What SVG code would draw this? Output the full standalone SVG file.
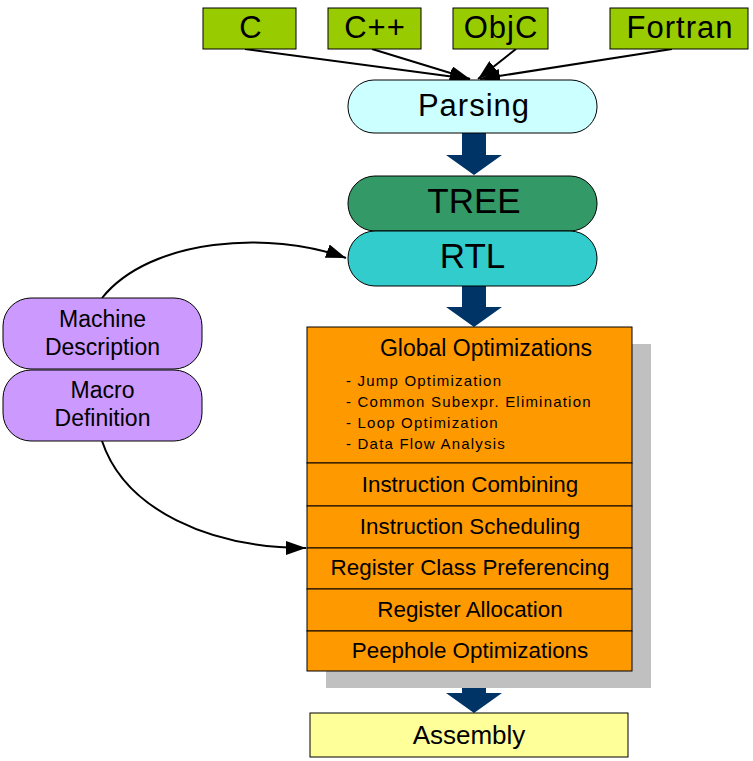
<svg xmlns="http://www.w3.org/2000/svg" width="753" height="761" viewBox="0 0 753 761">
<defs>
<style>
text{font-family:"Liberation Sans",Arial,sans-serif;fill:#000;text-anchor:middle}
.lang{fill:#99cc00;stroke:#000;stroke-width:1}
.pill{stroke:#000;stroke-width:1}
.sec{fill:#ff9900;stroke:#000;stroke-width:1}
.big{font-size:31px;letter-spacing:1px}
.huge{font-size:35px}
.mid{font-size:23px}
.lbl{font-size:22.4px}
.small{font-size:15px;letter-spacing:1.2px;text-anchor:start}
.conn{fill:none;stroke:#000;stroke-width:2}
.flow{fill:#003366}
</style>
<marker id="ah" viewBox="0 0 20 14" refX="20" refY="7" markerWidth="20" markerHeight="14" markerUnits="userSpaceOnUse" orient="auto">
<path d="M0,0 L20,7 L0,14 Z" fill="#000"/>
</marker>
</defs>
<rect width="753" height="761" fill="#fff"/>

<g id="connectors">
<line class="conn" x1="245" y1="49" x2="470" y2="79" marker-end="url(#ah)"/>
<line class="conn" x1="372" y1="49" x2="470" y2="79" marker-end="url(#ah)"/>
<line class="conn" x1="516" y1="49" x2="478" y2="79" marker-end="url(#ah)"/>
<line class="conn" x1="672" y1="49" x2="480" y2="79" marker-end="url(#ah)"/>
<path class="conn" d="M102 298 C150 238 270 230 346 258" marker-end="url(#ah)"/>
<path class="conn" d="M102 441 C125 510 210 548 306 548" marker-end="url(#ah)"/>
<path class="flow" d="M462 133 H486 V155 H502 L474 175 L446 155 H462 Z"/>
<path class="flow" d="M462 286 H486 V307 H502 L474 327 L446 307 H462 Z"/>
<path class="flow" d="M462 671 H486 V693 H502 L474 713 L446 693 H462 Z"/>
</g>

<g id="lang-c"><rect class="lang" x="203" y="8" width="93" height="41"/><text class="big" x="251" y="38">C</text></g>
<g id="lang-cpp"><rect class="lang" x="328" y="8" width="93" height="41"/><text class="big" x="375" y="38">C++</text></g>
<g id="lang-objc"><rect class="lang" x="453" y="8" width="95" height="41"/><text class="big" x="501" y="38">ObjC</text></g>
<g id="lang-fortran"><rect class="lang" x="610" y="8" width="138" height="41"/><text class="big" x="680" y="38">Fortran</text></g>

<g id="parsing"><rect class="pill" x="348" y="80" width="249" height="53" rx="26" fill="#ccffff"/><text class="big" x="474" y="116">Parsing</text></g>
<g id="tree"><rect class="pill" x="348" y="176" width="249" height="55" rx="27" fill="#339966"/><text class="huge" x="474" y="213">TREE</text></g>
<g id="rtl"><rect class="pill" x="348" y="231" width="249" height="55" rx="27" fill="#33cccc"/><text class="huge" x="472.5" y="268">RTL</text></g>

<g id="machine-description"><rect class="pill" x="3" y="298" width="199" height="71" rx="28" fill="#cc99ff"/><text class="mid" x="102.5" y="327">Machine</text><text class="mid" x="102.5" y="355">Description</text></g>
<g id="macro-definition"><rect class="pill" x="3" y="370" width="199" height="71" rx="28" fill="#cc99ff"/><text class="mid" x="102.5" y="398">Macro</text><text class="mid" x="102.5" y="426">Definition</text></g>

<g id="backend">
<rect x="326" y="344" width="325" height="344" fill="#c0c0c0"/>
<g id="global-optimizations"><rect class="sec" x="307" y="327" width="325" height="136"/>
<text class="mid" x="486" y="356">Global Optimizations</text>
<text class="small" x="346" y="386">- Jump Optimization</text>
<text class="small" x="346" y="407">- Common Subexpr. Elimination</text>
<text class="small" x="346" y="428">- Loop Optimization</text>
<text class="small" x="346" y="449">- Data Flow Analysis</text></g>
<g id="instruction-combining"><rect class="sec" x="307" y="463" width="325" height="43"/><text class="lbl" x="470" y="492">Instruction Combining</text></g>
<g id="instruction-scheduling"><rect class="sec" x="307" y="506" width="325" height="42"/><text class="lbl" x="470" y="534">Instruction Scheduling</text></g>
<g id="register-class-preferencing"><rect class="sec" x="307" y="548" width="325" height="41"/><text class="lbl" x="470" y="575">Register Class Preferencing</text></g>
<g id="register-allocation"><rect class="sec" x="307" y="589" width="325" height="42"/><text class="lbl" x="470" y="617">Register Allocation</text></g>
<g id="peephole-optimizations"><rect class="sec" x="307" y="631" width="325" height="40"/><text class="lbl" x="470" y="658">Peephole Optimizations</text></g>
</g>

<g id="assembly"><rect x="310" y="713" width="318" height="44" fill="#ffff99" stroke="#000" stroke-width="1"/><text class="mid" x="469" y="744" style="font-size:26px">Assembly</text></g>
</svg>
